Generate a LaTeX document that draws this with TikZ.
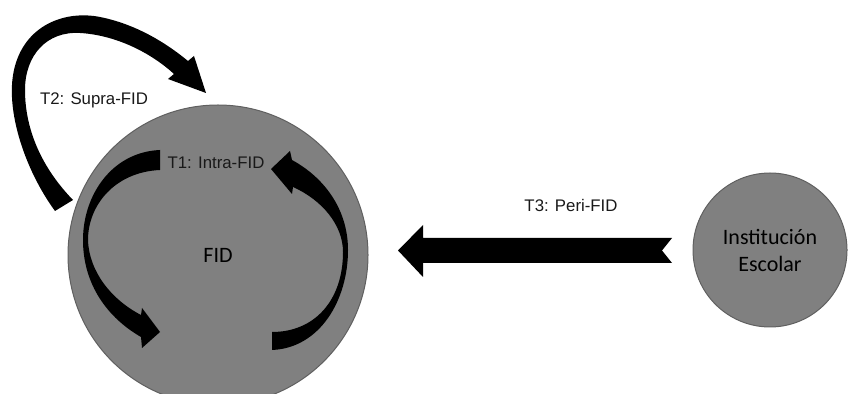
\documentclass[tikz,border=0pt]{standalone}
\usepackage{fontspec}
\setmainfont{Liberation Sans}
\newfontfamily\calibri{Carlito}
\definecolor{fidgray}{RGB}{128,128,128}
\definecolor{rimgray}{RGB}{96,96,96}
\definecolor{labelgray}{RGB}{25,25,25}

\begin{document}
\begin{tikzpicture}[x=0.5pt, y=-0.5pt,
  disc/.style={circle,draw=rimgray,fill=fidgray,line width=0.5pt,inner sep=0pt,text=black,align=center,font=\calibri\fontsize{11}{13.5}\selectfont},
  lbl/.style={inner sep=1pt,text=labelgray,font=\fontsize{8.4}{10}\selectfont},
  blk/.style={fill=black}]
  \useasboundingbox (0,0) rectangle (849,394);
  \clip (0,0) rectangle (849,394);
  \node[disc,minimum size=150pt] (fid) at (218,255) {FID};
  \node[disc,minimum size=77pt] (inst) at (770,250) {Institución\\Escolar};
  \node[lbl] (t1) at (216,163) {T1: Intra-FID};
  \node[lbl] (t2) at (94,100) {T2: Supra-FID};
  \node[lbl] (t3) at (571,205) {T3: Peri-FID};
  \fill[blk] (55,211) .. controls (25,170) and (5,110) .. (14,70) .. controls (24,25) and (65,10) .. (100,17)
    .. controls (135,24) and (165,42) .. (188,61) -- (194,56) -- (206,93) -- (168,79) -- (174,74)
    .. controls (150,52) and (115,35) .. (80,33) .. controls (47,31) and (25,55) .. (25,90)
    .. controls (25,130) and (42,168) .. (73,200) -- cycle;
  \fill[blk] (160,150) .. controls (112,152) and (83,195) .. (83,240) .. controls (83,285) and (108,318) .. (141,337)
    -- (142,348) -- (160,332) -- (142,308) -- (141,315)
    .. controls (112,300) and (89,272) .. (88,240) .. controls (88,205) and (115,172) .. (160,170) -- cycle;
  \fill[blk] (272,350) .. controls (320,348) and (348,300) .. (348,250) .. controls (348,210) and (325,178) .. (292,160)
    -- (290,151) -- (271,169) -- (292,194) -- (293,187)
    .. controls (322,200) and (343,225) .. (343,252) .. controls (343,300) and (315,332) .. (272,332) -- cycle;
  \fill[blk] (398,250.5) -- (423,225) -- (423,238) -- (672,238) -- (662,250.5) -- (672,263) -- (423,263) -- (423,277) -- cycle;
\end{tikzpicture}
\end{document}
